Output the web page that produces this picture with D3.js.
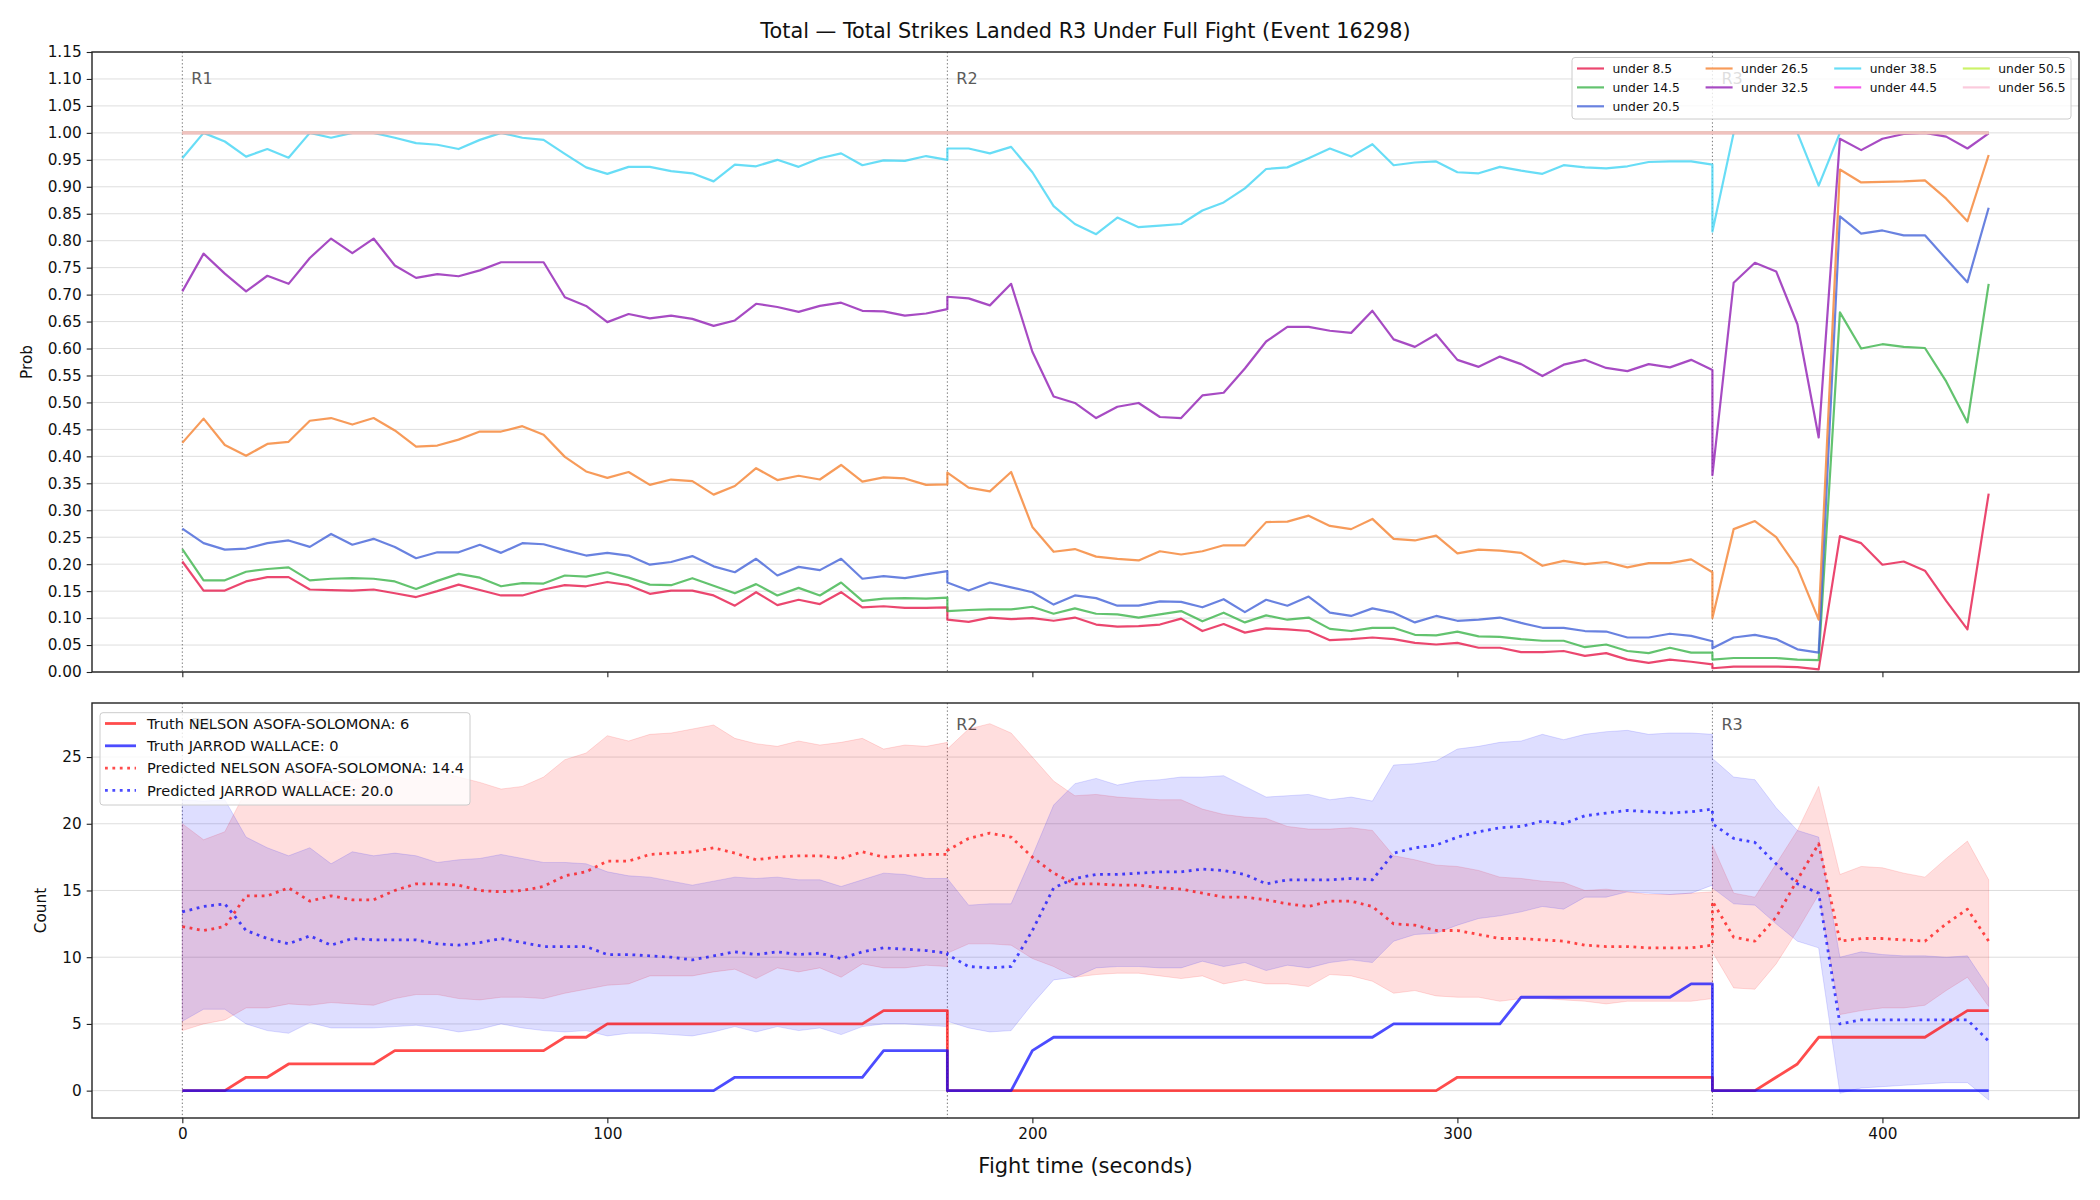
<!DOCTYPE html>
<html>
<head>
<meta charset="utf-8">
<script src="https://cdn.jsdelivr.net/npm/d3@7"></script>
<style>
  body { margin: 0; background: #fff; }
  svg text { font-family: "DejaVu Sans", sans-serif; }
</style>
</head>
<body>
<div id="chart"></div>
<script>
// sample times (s); 180 and 360 appear twice: end of one round, start of the next
const times = [
  0,5,10,15,20,25,30,35,40,45,50,55,60,65,70,75,80,85,90,95,100,105,110,115,120,125,130,135,140,145,150,155,160,165,170,175,180,
  180,185,190,195,200,205,210,215,220,225,230,235,240,245,250,255,260,265,270,275,280,285,290,295,300,305,310,315,320,325,330,335,340,345,350,355,360,
  360,365,370,375,380,385,390,395,400,405,410,415,420,425
];

// top panel: P(total strikes landed under line)
const under85 = [
  0.205,0.151,0.151,0.168,0.176,0.176,0.153,0.152,0.151,0.153,0.146,0.139,0.150,0.162,0.152,0.142,0.142,0.153,0.161,0.159,0.167,0.161,0.145,0.151,0.151,0.142,0.123,0.148,0.124,0.134,0.126,0.148,0.120,0.122,0.119,0.119,0.120,
  0.097,0.093,0.101,0.098,0.100,0.095,0.101,0.088,0.084,0.085,0.088,0.099,0.076,0.089,0.073,0.081,0.079,0.076,0.059,0.061,0.064,0.061,0.054,0.051,0.054,0.045,0.045,0.037,0.037,0.039,0.030,0.035,0.023,0.017,0.023,0.019,0.014,
  0.007,0.010,0.010,0.010,0.009,0.005,0.252,0.239,0.199,0.205,0.188,0.132,0.079,0.331
];
const under145 = [
  0.228,0.170,0.170,0.186,0.191,0.194,0.170,0.173,0.174,0.173,0.168,0.154,0.169,0.182,0.175,0.159,0.165,0.164,0.179,0.177,0.185,0.175,0.162,0.161,0.174,0.160,0.146,0.163,0.142,0.156,0.142,0.166,0.132,0.136,0.137,0.136,0.138,
  0.113,0.115,0.116,0.116,0.121,0.108,0.118,0.108,0.107,0.101,0.107,0.113,0.094,0.110,0.092,0.105,0.097,0.101,0.080,0.076,0.082,0.082,0.069,0.068,0.075,0.066,0.065,0.061,0.058,0.058,0.046,0.051,0.039,0.035,0.045,0.036,0.036,
  0.023,0.026,0.026,0.026,0.023,0.022,0.667,0.600,0.608,0.603,0.601,0.539,0.463,0.720
];
const under205 = [
  0.266,0.239,0.227,0.229,0.239,0.244,0.232,0.256,0.236,0.247,0.232,0.211,0.222,0.222,0.236,0.221,0.239,0.237,0.226,0.216,0.221,0.216,0.199,0.204,0.215,0.196,0.185,0.210,0.179,0.195,0.189,0.210,0.173,0.178,0.174,0.181,0.187,
  0.166,0.151,0.166,0.157,0.148,0.125,0.142,0.137,0.123,0.123,0.131,0.130,0.120,0.135,0.111,0.134,0.123,0.140,0.110,0.104,0.118,0.110,0.092,0.104,0.095,0.097,0.101,0.091,0.082,0.082,0.076,0.075,0.064,0.064,0.071,0.067,0.057,
  0.044,0.064,0.069,0.061,0.042,0.036,0.845,0.813,0.819,0.810,0.810,0.766,0.723,0.861
];
const under265 = [
  0.425,0.470,0.421,0.401,0.423,0.427,0.466,0.471,0.459,0.471,0.448,0.418,0.420,0.431,0.446,0.446,0.456,0.440,0.399,0.372,0.360,0.371,0.347,0.357,0.354,0.329,0.345,0.378,0.356,0.364,0.357,0.384,0.353,0.361,0.359,0.347,0.348,
  0.370,0.342,0.335,0.371,0.269,0.223,0.228,0.214,0.210,0.207,0.224,0.218,0.224,0.235,0.235,0.278,0.279,0.290,0.271,0.265,0.284,0.247,0.244,0.253,0.220,0.227,0.225,0.221,0.197,0.206,0.200,0.204,0.194,0.202,0.202,0.209,0.185,
  0.100,0.265,0.280,0.250,0.193,0.097,0.932,0.908,0.909,0.910,0.912,0.878,0.836,0.959
];
const under325 = [
  0.706,0.776,0.739,0.706,0.735,0.720,0.768,0.804,0.777,0.804,0.754,0.731,0.738,0.734,0.745,0.760,0.760,0.760,0.695,0.679,0.649,0.664,0.656,0.661,0.655,0.642,0.652,0.683,0.677,0.668,0.679,0.685,0.670,0.669,0.661,0.665,0.673,
  0.696,0.693,0.680,0.720,0.594,0.511,0.499,0.471,0.492,0.499,0.473,0.471,0.513,0.518,0.563,0.613,0.640,0.640,0.633,0.629,0.670,0.617,0.603,0.626,0.579,0.566,0.585,0.571,0.549,0.570,0.579,0.564,0.558,0.571,0.565,0.579,0.560,
  0.365,0.722,0.759,0.743,0.645,0.435,0.989,0.968,0.989,0.998,1.000,0.993,0.971,0.999
];
const under385 = [
  0.953,1.000,0.984,0.956,0.970,0.954,1.000,0.991,1.000,1.000,0.991,0.981,0.978,0.970,0.987,1.000,0.991,0.987,0.961,0.936,0.924,0.937,0.937,0.929,0.925,0.910,0.941,0.938,0.950,0.937,0.953,0.962,0.940,0.949,0.948,0.957,0.950,
  0.971,0.971,0.962,0.974,0.927,0.864,0.831,0.812,0.843,0.825,0.828,0.831,0.856,0.871,0.897,0.933,0.936,0.953,0.971,0.956,0.979,0.940,0.945,0.947,0.927,0.925,0.937,0.930,0.924,0.940,0.936,0.934,0.938,0.946,0.947,0.947,0.941,
  0.817,1.000,1.000,1.000,1.000,0.902,1.000,1.000,1.000,1.000,1.000,1.000,1.000,1.000
];
const under445 = [
  1,1,1,1,1,1,1,1,1,1,1,1,1,1,1,1,1,1,1,1,1,1,1,1,1,1,1,1,1,1,1,1,1,1,1,1,1,
  1,1,1,1,1,1,1,1,1,1,1,1,1,1,1,1,1,1,1,1,1,1,1,1,1,1,1,1,1,1,1,1,1,1,1,1,1,
  1,1,1,1,1,1,1,1,1,1,1,1,1,1
];
const under505 = [
  1,1,1,1,1,1,1,1,1,1,1,1,1,1,1,1,1,1,1,1,1,1,1,1,1,1,1,1,1,1,1,1,1,1,1,1,1,
  1,1,1,1,1,1,1,1,1,1,1,1,1,1,1,1,1,1,1,1,1,1,1,1,1,1,1,1,1,1,1,1,1,1,1,1,1,
  1,1,1,1,1,1,1,1,1,1,1,1,1,1
];
const under565 = [
  1,1,1,1,1,1,1,1,1,1,1,1,1,1,1,1,1,1,1,1,1,1,1,1,1,1,1,1,1,1,1,1,1,1,1,1,1,
  1,1,1,1,1,1,1,1,1,1,1,1,1,1,1,1,1,1,1,1,1,1,1,1,1,1,1,1,1,1,1,1,1,1,1,1,1,
  1,1,1,1,1,1,1,1,1,1,1,1,1,1
];
const lineNames = ["under 8.5","under 14.5","under 20.5","under 26.5","under 32.5","under 38.5","under 44.5","under 50.5","under 56.5"];

// bottom panel: counts per fighter
const truthNelson = [
  0,0,0,1,1,2,2,2,2,2,3,3,3,3,3,3,3,3,4,4,5,5,5,5,5,5,5,5,5,5,5,5,5,6,6,6,6,
  0,0,0,0,0,0,0,0,0,0,0,0,0,0,0,0,0,0,0,0,0,0,0,0,1,1,1,1,1,1,1,1,1,1,1,1,1,
  0,0,0,1,2,4,4,4,4,4,4,5,6,6
];
const truthJarrod = [
  0,0,0,0,0,0,0,0,0,0,0,0,0,0,0,0,0,0,0,0,0,0,0,0,0,0,1,1,1,1,1,1,1,3,3,3,3,
  0,0,0,0,3,4,4,4,4,4,4,4,4,4,4,4,4,4,4,4,4,5,5,5,5,5,5,7,7,7,7,7,7,7,7,8,8,
  0,0,0,0,0,0,0,0,0,0,0,0,0,0
];
const predNelson = [
  12.3,12.0,12.3,14.6,14.6,15.2,14.2,14.6,14.3,14.3,15.0,15.5,15.5,15.4,15.0,14.9,15.0,15.3,16.1,16.4,17.2,17.2,17.7,17.8,17.9,18.2,17.8,17.3,17.5,17.6,17.6,17.4,17.9,17.5,17.6,17.7,17.7,
  18.0,18.9,19.3,19.0,17.5,16.3,15.5,15.5,15.4,15.4,15.2,15.1,14.8,14.5,14.5,14.3,14.0,13.8,14.2,14.2,13.8,12.5,12.4,12.0,12.0,11.7,11.4,11.4,11.3,11.2,10.9,10.8,10.8,10.7,10.7,10.7,10.9,
  14.2,11.5,11.2,13.0,15.8,18.5,11.2,11.4,11.4,11.3,11.2,12.5,13.6,11.2
];
const predJarrod = [
  13.4,13.8,14.0,12.0,11.4,11.0,11.6,10.9,11.4,11.3,11.3,11.3,11.0,10.9,11.1,11.4,11.1,10.8,10.8,10.8,10.2,10.2,10.1,10.0,9.8,10.1,10.4,10.2,10.4,10.2,10.3,9.9,10.4,10.7,10.6,10.5,10.3,
  10.2,9.3,9.2,9.3,12.0,15.2,15.9,16.2,16.2,16.3,16.4,16.4,16.6,16.5,16.2,15.5,15.8,15.8,15.8,15.9,15.8,17.8,18.2,18.4,19.0,19.4,19.7,19.8,20.2,20.0,20.6,20.8,21.0,20.9,20.8,20.9,21.1,
  20.0,18.9,18.6,17.0,15.5,14.8,5.0,5.3,5.3,5.3,5.3,5.3,5.3,3.7
];
const nelsonHi = [
  20.0,18.8,19.4,22.5,23.2,23.9,23.5,23.1,23.3,23.5,23.6,23.6,23.9,23.5,23.1,22.6,22.8,23.5,24.8,25.3,26.6,26.2,26.7,26.8,27.1,27.4,26.4,26.0,25.8,26.2,25.9,26.1,26.4,25.6,25.9,25.8,26.1,
  25.6,27.1,27.5,26.8,25.0,23.2,22.1,22.2,22.0,21.9,21.8,21.8,21.1,20.7,20.5,20.4,19.8,19.6,19.6,19.7,19.5,17.6,17.3,16.9,16.8,16.5,16.0,15.9,15.7,15.6,15.0,15.1,14.9,14.7,14.7,14.8,14.9,
  18.4,14.8,14.5,17.0,19.5,22.8,16.2,16.8,16.7,16.3,16.0,17.4,18.7,15.8
];
const nelsonLo = [
  4.5,5.0,5.3,6.2,6.2,6.5,6.4,6.6,6.5,6.4,6.9,7.2,7.2,6.9,6.8,7.0,7.0,6.9,7.3,7.6,7.9,8.0,8.6,8.6,8.6,8.9,9.1,8.4,9.2,8.9,9.2,8.5,9.5,9.2,9.2,9.4,9.3,
  10.3,11.0,11.0,10.9,9.9,9.3,8.5,8.7,8.8,8.8,8.6,8.4,8.6,8.0,8.3,8.0,8.0,7.8,8.7,8.6,8.2,7.3,7.5,7.1,7.0,7.0,6.7,6.9,6.9,6.8,6.7,6.5,6.7,6.7,6.7,6.7,6.9,
  10.4,7.7,7.6,9.5,12.0,14.7,5.7,6.0,6.2,6.2,6.4,7.5,8.5,6.3
];
const jarrodHi = [
  21.8,21.7,21.8,19.0,18.2,17.6,18.2,17.0,17.9,17.6,17.8,17.6,17.1,17.3,17.4,17.7,17.4,17.1,17.1,17.0,16.4,16.1,16.0,15.7,15.4,15.7,16.0,15.9,16.0,15.8,15.8,15.3,15.8,16.3,16.2,15.9,15.9,
  15.9,13.9,14.0,14.0,17.6,21.4,23.0,23.4,22.9,23.2,23.3,23.5,23.5,23.6,22.8,22.0,22.1,22.2,21.8,22.0,21.7,24.4,24.5,24.7,25.6,25.8,26.1,26.2,26.7,26.3,26.7,26.9,27.0,26.7,26.8,26.8,26.7,
  24.9,23.5,23.3,21.2,19.5,19.0,10.0,10.4,10.2,10.1,10.1,10.0,10.1,7.7
];
const jarrodLo = [
  5.2,6.1,6.1,5.0,4.5,4.3,5.1,4.7,4.7,4.7,4.8,4.9,4.7,4.4,4.6,5.0,4.7,4.5,4.4,4.5,4.1,4.3,4.3,4.2,4.1,4.4,4.8,4.4,4.8,4.5,4.7,4.2,4.8,5.0,5.0,4.9,4.8,
  5.2,4.7,4.4,4.5,6.5,8.3,8.5,9.2,9.3,9.3,9.2,9.2,9.7,9.3,9.6,9.0,9.4,9.2,9.6,9.8,9.6,11.2,11.7,11.8,12.4,12.9,13.1,13.4,13.8,13.6,14.5,14.5,14.9,14.8,14.7,14.8,15.4,
  15.2,14.0,13.9,12.5,11.2,10.7,-0.2,0.2,0.3,0.4,0.5,0.6,0.6,-0.7
];
const legendLabels = [
  "Truth NELSON ASOFA-SOLOMONA: 6",
  "Truth JARROD WALLACE: 0",
  "Predicted NELSON ASOFA-SOLOMONA: 14.4",
  "Predicted JARROD WALLACE: 20.0"
];

const roundStarts = [0, 180, 360];
const roundLabels = ["R1", "R2", "R3"];
const xTicks = [0, 100, 200, 300, 400];
const probTicks = [0,0.05,0.10,0.15,0.20,0.25,0.30,0.35,0.40,0.45,0.50,0.55,0.60,0.65,0.70,0.75,0.80,0.85,0.90,0.95,1.00,1.05,1.10,1.15];
const countTicks = [0, 5, 10, 15, 20, 25];
const title = "Total \u2014 Total Strikes Landed R3 Under Full Fight (Event 16298)";

// ---------------------------------------------------------------
const W = 2100, H = 1200;
const left = 92, right = 2079;
const top1 = 52, bot1 = 672;
const top2 = 703, bot2 = 1118;
const tickFont = 15.3;

const svg = d3.select("#chart").append("svg")
    .attr("width", W)
    .attr("height", H);

const x = d3.scaleLinear().domain([-21.25, 446.25]).range([left, right]);
const yP = d3.scaleLinear().domain([0, 1.15]).range([bot1, top1]);
const yC = d3.scaleLinear().domain([-2.05, 29.05]).range([bot2, top2]);

const defs = svg.append("defs");
[["clipTop", top1, bot1], ["clipBot", top2, bot2]].forEach(([id, t, b]) => {
    defs.append("clipPath").attr("id", id)
        .append("rect").attr("x", left).attr("y", t).attr("width", right - left).attr("height", b - t);
});

function grid(ticks, y) {
    svg.append("g").selectAll("line")
        .data(ticks)
        .enter()
        .append("line")
        .attr("x1", left).attr("x2", right)
        .attr("y1", d => y(d)).attr("y2", d => y(d))
        .attr("stroke", "#dedede")
        .attr("stroke-width", 1);
}

function roundMarks(g, y, top, bottom) {
    roundStarts.forEach((r, i) => {
        g.append("line")
            .attr("x1", x(r)).attr("x2", x(r))
            .attr("y1", top).attr("y2", bottom)
            .attr("stroke", "#777")
            .attr("stroke-width", 1)
            .attr("stroke-dasharray", "1.4,2.3");
        g.append("text")
            .attr("x", x(r) + 9)
            .attr("y", y)
            .attr("font-size", 16)
            .attr("fill", "#5a5a5a")
            .text(roundLabels[i]);
    });
}

function styleAxis(g) {
    g.select(".domain").remove();
    g.selectAll(".tick line").attr("stroke", "#222").attr("stroke-width", 1.1);
    g.selectAll(".tick text").attr("font-family", "DejaVu Sans").attr("font-size", tickFont).attr("fill", "#111");
}

function frame(t, b) {
    svg.append("rect")
        .attr("x", left).attr("y", t)
        .attr("width", right - left).attr("height", b - t)
        .attr("fill", "none")
        .attr("stroke", "#222")
        .attr("stroke-width", 1.4);
}

// ---------------- top panel ----------------
grid(probTicks, yP);

const topG = svg.append("g").attr("clip-path", "url(#clipTop)");
roundMarks(topG, 84, top1, bot1);

const topSeries = [under85, under145, under205, under265, under325, under385, under445, under505, under565];
const topColors = ["#e6194b", "#3cb44b", "#4363d8", "#f58231", "#911eb4", "#42d4f4", "#f032e6", "#bfef45", "#fabed4"];

const lineP = d3.line()
    .x((d, i) => x(times[i]))
    .y(d => yP(d));

topSeries.forEach((vals, k) => {
    topG.append("path")
        .datum(vals)
        .attr("d", lineP)
        .attr("fill", "none")
        .attr("stroke", topColors[k])
        .attr("stroke-opacity", 0.8)
        .attr("stroke-width", k >= 6 ? 2.8 : 2.2)
        .attr("stroke-linejoin", "round");
});

svg.append("g")
    .attr("transform", `translate(${left},0)`)
    .call(d3.axisLeft(yP).tickValues(probTicks).tickFormat(d3.format(".2f")).tickSize(5.3).tickPadding(5))
    .call(styleAxis);

svg.append("g")
    .attr("transform", `translate(0,${bot1})`)
    .call(d3.axisBottom(x).tickValues(xTicks).tickFormat("").tickSize(5.3))
    .call(styleAxis);

frame(top1, bot1);

// legend (top)
const lgTop = svg.append("g");
lgTop.append("rect")
    .attr("x", 1572).attr("y", 57.5)
    .attr("width", 499).attr("height", 61.5)
    .attr("rx", 3)
    .attr("fill", "#fff").attr("fill-opacity", 0.8)
    .attr("stroke", "#cccccc").attr("stroke-width", 1);
const colOf = [0, 0, 0, 1, 1, 2, 2, 3, 3];
const rowOf = [0, 1, 2, 0, 1, 0, 1, 0, 1];
lineNames.forEach((name, k) => {
    const hx = 1577 + colOf[k] * 128.6;
    const hy = 68.5 + rowOf[k] * 18.9;
    lgTop.append("line")
        .attr("x1", hx).attr("x2", hx + 27)
        .attr("y1", hy).attr("y2", hy)
        .attr("stroke", topColors[k]).attr("stroke-opacity", 0.8)
        .attr("stroke-width", 2.2);
    lgTop.append("text")
        .attr("x", hx + 35.5)
        .attr("y", hy + 4.4)
        .attr("font-size", 12.3)
        .attr("fill", "#111")
        .text(name);
});

// ---------------- bottom panel ----------------
grid(countTicks, yC);

const botG = svg.append("g").attr("clip-path", "url(#clipBot)");
roundMarks(botG, 730, top2, bot2);

const idx = d3.range(times.length);

const bands = [
    {lo: nelsonLo, hi: nelsonHi, color: "#ff0000"},
    {lo: jarrodLo, hi: jarrodHi, color: "#0000ff"}
];
bands.forEach(b => {
    botG.append("path")
        .datum(idx)
        .attr("d", d3.area()
            .x(i => x(times[i]))
            .y0(i => yC(b.lo[i]))
            .y1(i => yC(b.hi[i])))
        .attr("fill", b.color).attr("fill-opacity", 0.13)
        .attr("stroke", b.color).attr("stroke-opacity", 0.13)
        .attr("stroke-width", 1);
});

const lineC = d3.line()
    .x((d, i) => x(times[i]))
    .y(d => yC(d));

const botLines = [
    {vals: truthNelson, color: "#ff0000", dash: null},
    {vals: truthJarrod, color: "#0000ff", dash: null},
    {vals: predNelson, color: "#ff0000", dash: "2.8,4.6"},
    {vals: predJarrod, color: "#0000ff", dash: "2.8,4.6"}
];
botLines.forEach(l => {
    botG.append("path")
        .datum(l.vals)
        .attr("d", lineC)
        .attr("fill", "none")
        .attr("stroke", l.color)
        .attr("stroke-opacity", 0.7)
        .attr("stroke-width", 2.8)
        .attr("stroke-dasharray", l.dash)
        .attr("stroke-linejoin", "round");
});

svg.append("g")
    .attr("transform", `translate(${left},0)`)
    .call(d3.axisLeft(yC).tickValues(countTicks).tickFormat(d3.format("d")).tickSize(5.3).tickPadding(5))
    .call(styleAxis);

svg.append("g")
    .attr("transform", `translate(0,${bot2})`)
    .call(d3.axisBottom(x).tickValues(xTicks).tickFormat(d3.format("d")).tickSize(5.3).tickPadding(5))
    .call(styleAxis);

frame(top2, bot2);

// legend (bottom)
const lgBot = svg.append("g");
lgBot.append("rect")
    .attr("x", 100).attr("y", 712.7)
    .attr("width", 370).attr("height", 92.3)
    .attr("rx", 3)
    .attr("fill", "#fff").attr("fill-opacity", 0.8)
    .attr("stroke", "#cccccc").attr("stroke-width", 1);
legendLabels.forEach((lab, k) => {
    const hy = 723.5 + k * 22.3;
    lgBot.append("line")
        .attr("x1", 105).attr("x2", 136)
        .attr("y1", hy).attr("y2", hy)
        .attr("stroke", botLines[k].color).attr("stroke-opacity", 0.7)
        .attr("stroke-width", 2.8)
        .attr("stroke-dasharray", botLines[k].dash);
    lgBot.append("text")
        .attr("x", 147)
        .attr("y", hy + 5.2)
        .attr("font-size", 14.6)
        .attr("fill", "#111")
        .text(lab);
});

// ---------------- titles ----------------
svg.append("text")
    .attr("x", (left + right) / 2)
    .attr("y", 38)
    .attr("text-anchor", "middle")
    .attr("font-size", 20.8)
    .attr("fill", "#111")
    .text(title);

svg.append("text")
    .attr("x", (left + right) / 2)
    .attr("y", 1173)
    .attr("text-anchor", "middle")
    .attr("font-size", 21)
    .attr("fill", "#111")
    .text("Fight time (seconds)");

svg.append("text")
    .attr("transform", `translate(32,${(top1 + bot1) / 2}) rotate(-90)`)
    .attr("text-anchor", "middle")
    .attr("font-size", tickFont)
    .attr("fill", "#111")
    .text("Prob");

svg.append("text")
    .attr("transform", `translate(46,${(top2 + bot2) / 2}) rotate(-90)`)
    .attr("text-anchor", "middle")
    .attr("font-size", tickFont)
    .attr("fill", "#111")
    .text("Count");
</script>
</body>
</html>
